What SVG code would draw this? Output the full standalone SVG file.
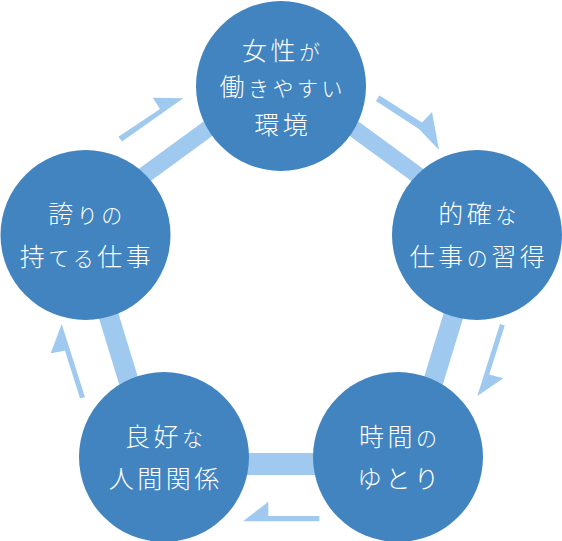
<svg xmlns="http://www.w3.org/2000/svg" width="562" height="541" viewBox="0 0 562 541">
<style>
.bar{stroke:#9fc9ee;fill:none;stroke-linecap:butt}
.arr{fill:#9fc9ee}
.node circle{fill:#4184c0}
.t{font-family:"Noto Sans CJK JP","Noto Sans CJK SC",sans-serif;font-weight:300;font-size:25px;fill:#ffffff;text-anchor:middle;letter-spacing:3.5px}
.k{font-size:21px}
</style>
<rect width="562" height="541" fill="#ffffff"/>
<g id="connectors">
<line class="bar" x1="120" y1="193" x2="250" y2="98" stroke-width="17"/>
<line class="bar" x1="312" y1="98" x2="442" y2="193" stroke-width="17"/>
<line class="bar" x1="94.7" y1="270" x2="145.1" y2="435" stroke-width="20"/>
<line class="bar" x1="467.3" y1="270" x2="416.9" y2="435" stroke-width="20"/>
<line class="bar" x1="190" y1="464" x2="372" y2="464" stroke-width="22"/>
<polygon class="arr" points="122,141.5 183.3,98.3 152.7,97.7 160,109 118.4,136.7"/>
<polygon class="arr" points="376,101 419,129 439,150 432,112 422,122.5 379.5,95.5"/>
<polygon class="arr" points="477.3,396 500,324 504.8,325.5 489.2,374.5 503.3,378.3"/>
<polygon class="arr" points="319.3,516 319.3,521.3 243,521.3 268.3,501.7 268.3,516"/>
<polygon class="arr" points="61.7,324 85,397.3 80,398.3 65,350.7 50.7,353.3"/>
</g>
<g id="node-top" class="node">
<circle cx="281" cy="86" r="85"/>
<text class="t" x="282.7" y="60">女性<tspan class="k">が</tspan></text>
<text class="t" x="282.7" y="96">働<tspan class="k">きやすい</tspan></text>
<text class="t" x="282.7" y="134">環境</text>
</g>
<g id="node-right" class="node">
<circle cx="477" cy="235" r="85"/>
<text class="t" x="479" y="223">的確<tspan class="k">な</tspan></text>
<text class="t" x="479" y="266">仕事<tspan class="k">の</tspan>習得</text>
</g>
<g id="node-bottom-right" class="node">
<circle cx="398" cy="457" r="85"/>
<text class="t" x="399.7" y="446">時間<tspan class="k">の</tspan></text>
<text class="t" x="399.7" y="488">ゆとり</text>
</g>
<g id="node-bottom-left" class="node">
<circle cx="164" cy="457" r="85"/>
<text class="t" x="165.7" y="446">良好<tspan class="k">な</tspan></text>
<text class="t" x="165.7" y="488">人間関係</text>
</g>
<g id="node-left" class="node">
<circle cx="85.5" cy="235" r="85"/>
<text class="t" x="87" y="223">誇<tspan class="k">りの</tspan></text>
<text class="t" x="87" y="266">持<tspan class="k">てる</tspan>仕事</text>
</g>
</svg>
